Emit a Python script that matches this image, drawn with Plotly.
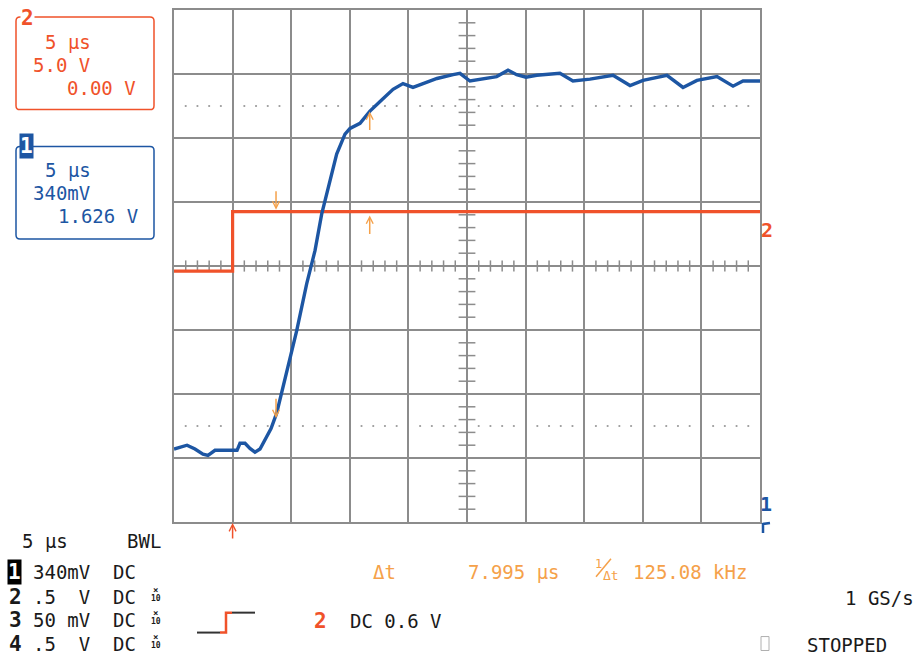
import numpy as np
import plotly.graph_objects as go

# ---------------- data ----------------
# Channel 1 (blue): time in µs, vertical position in screen divisions (0 = bottom, 8 = top)
ch1_t = [0.0, 0.51, 1.11, 1.79, 2.47, 2.90, 3.50, 4.95, 5.38, 5.63, 6.06, 6.48, 6.91, 7.34,
         7.91, 8.28, 8.76, 9.62, 10.47, 11.32, 12.03, 12.60, 13.03, 13.88, 14.59, 15.02,
         15.87, 16.72, 17.58, 18.69, 19.54, 20.39, 21.25, 22.44, 23.81, 24.40, 25.25,
         26.36, 27.53, 28.50, 29.24, 30.03, 30.95, 32.93, 34.04, 35.49, 37.46, 38.91,
         40.02, 42.06, 43.43, 44.62, 46.33, 47.70, 48.55, 50.0]
ch1_div = [1.14, 1.17, 1.20, 1.14, 1.06, 1.04, 1.12, 1.12, 1.12, 1.23, 1.23, 1.15, 1.09, 1.14,
           1.32, 1.46, 1.70, 2.37, 2.99, 3.72, 4.24, 4.81, 5.13, 5.75, 6.06, 6.15,
           6.23, 6.42, 6.57, 6.76, 6.85, 6.79, 6.85, 6.93, 6.99, 7.01, 6.89,
           6.93, 6.96, 7.06, 6.99, 6.95, 6.98, 7.01, 6.89, 6.92, 6.98, 6.82,
           6.90, 6.98, 6.79, 6.90, 6.96, 6.81, 6.89, 6.89]
# Channel 2 (orange) step
ch2_t = [0.0, 5.0, 5.0, 50.0]
ch2_div = [3.92, 3.92, 4.85, 4.85]
# Cursors (µs) and trigger position
cursor_t = [8.705, 16.70]
trigger_t = 5.0
ch2_ground_div = 4.5

# ---------------- styling ----------------
MONO = "DejaVu Sans Mono"
GRID = "#8c8c8c"
BLUE = "#1d56a3"
ORANGE = "#f0522a"
CURSOR = "#f5a14a"
TXT = "#1a1a1a"

L, R, T, B = 174, 760, 8, 522


def px(x):
    return (x - L) / (R - L)


def py(y):
    return (B - y) / (B - T)


def nb(s):
    return s.replace(" ", "\u00a0")


fig = go.Figure()

# dotted 10% / 90% guide rows
minor_t = [t for t in np.arange(1, 50, 1.0) if t % 5 != 0]
for lvl in (1.5, 6.5):
    fig.add_trace(go.Scatter(x=minor_t, y=[lvl] * len(minor_t), mode="markers",
                             marker=dict(size=2.2, color="#9a9a9a"), hoverinfo="skip"))

# centre-line minor ticks
fig.add_trace(go.Scatter(x=minor_t, y=[4] * len(minor_t), mode="markers",
                         marker=dict(symbol="line-ns", size=8, line=dict(width=1.5, color=GRID)),
                         hoverinfo="skip"))
minor_v = [round(v, 1) for v in np.arange(0.2, 8, 0.2) if abs(v - round(v)) > 1e-6]
fig.add_trace(go.Scatter(x=[25] * len(minor_v), y=minor_v, mode="markers",
                         marker=dict(symbol="line-ew", size=12, line=dict(width=1.5, color=GRID)),
                         hoverinfo="skip"))

# traces
fig.add_trace(go.Scatter(x=ch2_t, y=ch2_div, mode="lines",
                         line=dict(color=ORANGE, width=3.2), hoverinfo="skip"))
fig.add_trace(go.Scatter(x=ch1_t, y=ch1_div, mode="lines",
                         line=dict(color=BLUE, width=3.4), hoverinfo="skip"))

# ch2 ground marker at left
fig.add_trace(go.Scatter(x=[-0.55], y=[ch2_ground_div], mode="markers", cliponaxis=False,
                         marker=dict(symbol="triangle-right", size=9, color=ORANGE),
                         hoverinfo="skip"))

ann = []

# cursor arrows
b1 = float(np.interp(cursor_t[0], ch1_t, ch1_div))
b2 = float(np.interp(cursor_t[1], ch1_t, ch1_div))
o_hi = ch2_div[-1]
for (xt, yv, ay) in [(cursor_t[0], o_hi + 0.03, -20), (cursor_t[1], o_hi - 0.06, 20),
                     (cursor_t[1], b2, 20), (cursor_t[0], b1 - 0.05, -21)]:
    ann.append(dict(x=xt, y=yv, xref="x", yref="y", ax=0, ay=ay, text="", showarrow=True,
                    arrowhead=5, arrowsize=0.9, arrowwidth=1.5, arrowcolor=CURSOR))
# trigger arrow
ann.append(dict(x=trigger_t, y=0, xref="x", yref="y", ax=0, ay=18, text="", showarrow=True,
                arrowhead=5, arrowsize=0.9, arrowwidth=1.5, arrowcolor=ORANGE, standoff=1))


def txt(s, x, y, color=TXT, size=19, bold=False, anchor="left", bg=None, pad=0):
    t = nb(s)
    if bold:
        t = "<b>" + t + "</b>"
    d = dict(text=t, x=px(x), y=py(y), xref="paper", yref="paper", xanchor=anchor,
             yanchor="middle", showarrow=False, font=dict(family=MONO, size=size, color=color),
             borderpad=pad)
    if bg:
        d["bgcolor"] = bg
    return d


# channel 2 box
ann += [txt("5 µs", 44, 40, ORANGE), txt("5.0 V", 32, 63, ORANGE), txt("0.00 V", 66, 86, ORANGE)]
# channel 1 box
ann += [txt("5 µs", 44, 169, BLUE), txt("340mV", 32, 192, BLUE), txt("1.626 V", 57, 215, BLUE)]

# bottom-left status
ann += [txt("5 µs", 21, 541), txt("BWL", 126, 541)]
rows_y = [572, 597, 620, 644]
rows = ["340mV  DC", ".5  V  DC", "50 mV  DC", ".5  V  DC"]
for i, (yy, s) in enumerate(zip(rows_y, rows)):
    ann.append(txt(s, 32, yy))
    if i == 0:
        ann.append(txt("1", 14.5, yy, "white", size=21, bold=True, anchor="center", bg="black", pad=0))
    else:
        ann.append(txt(str(i + 1), 15, yy, TXT, size=21, bold=True, anchor="center"))
        ann.append(txt("×", 155.5, yy - 7, TXT, size=9, bold=True, anchor="center"))
        ann.append(txt("10", 155.5, yy + 2, TXT, size=8, bold=True, anchor="center"))

# trigger info
ann += [txt("2", 320, 621, ORANGE, size=21, bold=True, anchor="center"), txt("DC 0.6 V", 349, 621)]

# cursor readout
ann += [txt("Δt", 372, 572, CURSOR), txt("7.995 µs", 467, 572, CURSOR),
        txt("1", 598.5, 564, CURSOR, size=12, anchor="center"),
        txt("Δt", 611, 576, CURSOR, size=13, anchor="center"),
        txt("125.08 kHz", 632, 572, CURSOR)]

# right side
ann += [txt("1 GS/s", 844, 598), txt("STOPPED", 806, 645)]
ann += [txt("2", 767, 229, ORANGE, size=20, bold=True, anchor="center"),
        txt("1", 766, 504, BLUE, size=20, bold=True, anchor="center")]

# box labels
ann += [txt("2", 27, 16, ORANGE, size=21, bold=True, anchor="center", bg="white"),
        txt("1", 26.5, 145, "white", size=21, bold=True, anchor="center", bg=BLUE)]

shapes = []


def rrect(x0, y0, x1, y1, color, r=4, w=1.5):
    X0, X1 = px(x0), px(x1)
    Y0, Y1 = py(y0), py(y1)
    rx = r / (R - L)
    ry = r / (B - T)
    path = (f"M {X0+rx},{Y0} L {X1-rx},{Y0} Q {X1},{Y0} {X1},{Y0-ry} L {X1},{Y1+ry} "
            f"Q {X1},{Y1} {X1-rx},{Y1} L {X0+rx},{Y1} Q {X0},{Y1} {X0},{Y1+ry} "
            f"L {X0},{Y0-ry} Q {X0},{Y0} {X0+rx},{Y0} Z")
    return dict(type="path", path=path, xref="paper", yref="paper",
                line=dict(color=color, width=w), layer="below")


shapes.append(rrect(16, 15, 154, 108, ORANGE))
shapes.append(rrect(16, 145, 154, 238, BLUE))


def seg(pts, color, w=2):
    path = "M " + " L ".join(f"{px(a)},{py(b)}" for a, b in pts)
    return dict(type="path", path=path, xref="paper", yref="paper",
                line=dict(color=color, width=w))


# fraction slash of 1/Δt
shapes.append(seg([(596, 577), (611, 559)], CURSOR, 1.5))
# trigger slope icon
shapes.append(seg([(197, 633), (220, 633)], "#333333", 2))
shapes.append(seg([(220, 633), (226, 633), (226, 613), (232, 613)], ORANGE, 2.5))
shapes.append(seg([(232, 613), (255, 613)], "#333333", 2))
# ch1 ground marker (off-screen below)
shapes.append(seg([(763, 533), (763, 524), (770, 523)], BLUE, 2.5))
# stopped indicator box
shapes.append(dict(type="rect", xref="paper", yref="paper", x0=px(761), x1=px(769),
                   y0=py(651), y1=py(637), line=dict(color="#b0b0b0", width=1)))

fig.update_layout(
    width=914, height=655,
    margin=dict(l=L, r=914 - R, t=T, b=655 - B),
    paper_bgcolor="white", plot_bgcolor="white",
    showlegend=False,
    annotations=ann, shapes=shapes,
    xaxis=dict(range=[0, 50], dtick=5, tick0=0, showgrid=True, gridcolor=GRID, gridwidth=1.7,
               showticklabels=False, ticks="", zeroline=False, showline=True, linecolor=GRID,
               linewidth=2, mirror=True, fixedrange=True),
    yaxis=dict(range=[0, 8], dtick=1, tick0=0, showgrid=True, gridcolor=GRID, gridwidth=1.7,
               showticklabels=False, ticks="", zeroline=False, showline=True, linecolor=GRID,
               linewidth=2, mirror=True, fixedrange=True),
)

fig.write_html("out.html", config={"displayModeBar": False})
